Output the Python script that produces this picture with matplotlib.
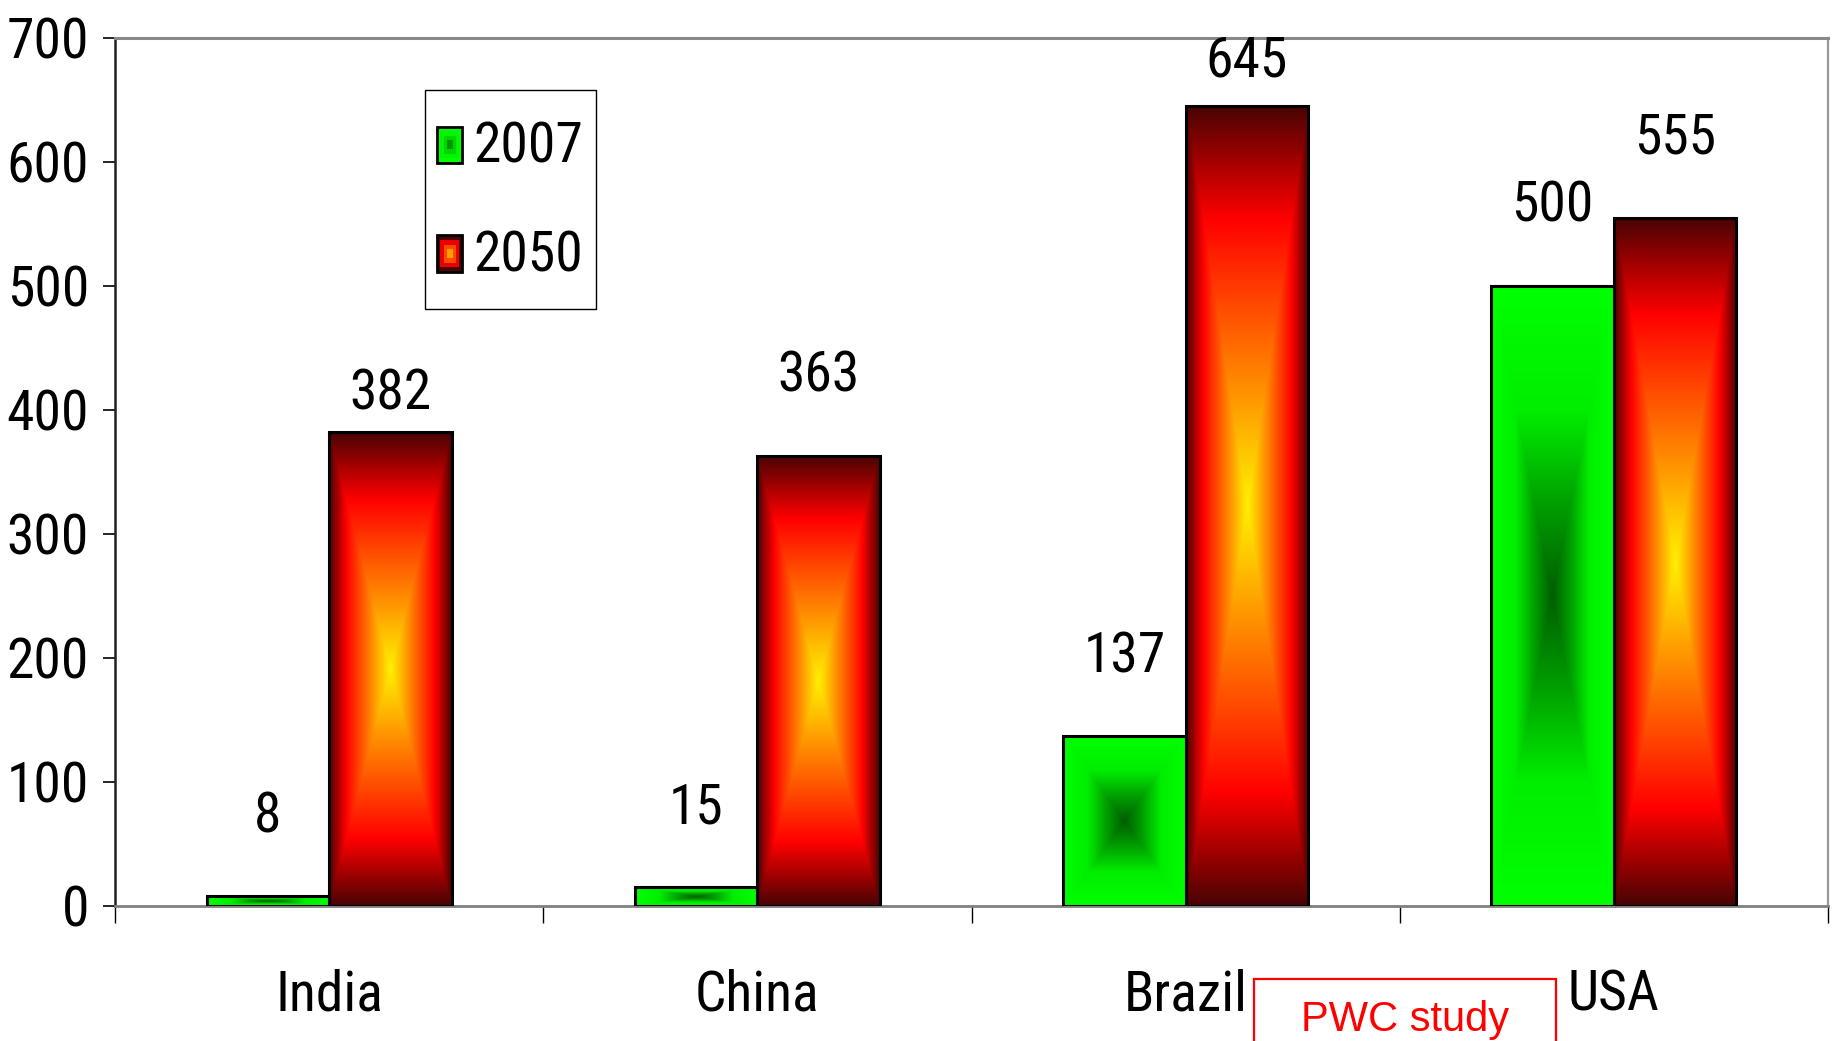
import matplotlib
matplotlib.use('Agg')
import matplotlib.pyplot as plt
import numpy as np
from matplotlib import font_manager
from matplotlib.colors import LinearSegmentedColormap
from matplotlib.legend_handler import HandlerBase
from matplotlib.patches import Rectangle

# data
countries = ['India', 'China', 'Brazil', 'USA']
years = ['2007', '2050']
vals_2007 = [8, 15, 137, 500]
vals_2050 = [382, 363, 645, 555]
yticks = [0, 100, 200, 300, 400, 500, 600, 700]

# label offsets above the bar tops (data units), two labels were nudged down
off_2007 = [64, 64, 64, 64]
off_2050 = [31, 64, 36, 64]

# pick a narrow face if one is around, the original uses Arial Narrow
fonts = font_manager.fontManager.ttflist
names = {f.name for f in fonts}
NARROW, STRETCH, BIG = 'Liberation Sans', 'normal', 34
for cand in ['Liberation Sans Narrow', 'Roboto Condensed', 'Open Sans Condensed']:
    if cand in names:
        NARROW, STRETCH, BIG = cand, 'normal', 40
        break
else:
    if any(f.name == 'DejaVu Sans' and f.stretch == 'condensed' for f in fonts):
        NARROW, STRETCH, BIG = 'DejaVu Sans', 'condensed', 36

green_cm = LinearSegmentedColormap.from_list('grn', [
    (0.0, '#005e00'), (0.3, '#00a000'), (0.6, '#00ee00'), (1.0, '#00ff00')])
red_cm = LinearSegmentedColormap.from_list('red', [
    (0.0, '#fff000'), (0.15, '#ffc000'), (0.3, '#ff8c00'), (0.5, '#ff4a00'),
    (0.72, '#ff0000'), (0.86, '#a80000'), (1.0, '#4a0404')])


def box_gradient(n=200):
    # rectangular "from centre" gradient: 0 in the middle, 1 on the edges
    u = np.linspace(-1, 1, n)
    U, V = np.meshgrid(u, u)
    return np.maximum(np.abs(U), np.abs(V))


def fill_bars(ax, bars, cmap):
    g = box_gradient()
    for r in bars:
        x0, y0 = r.get_xy()
        ax.imshow(g, cmap=cmap, vmin=0, vmax=1, origin='lower', aspect='auto',
                  interpolation='bilinear',
                  extent=[x0, x0 + r.get_width(), y0, y0 + r.get_height()],
                  zorder=2)


class GradHandler(HandlerBase):
    # small stepped gradient box, drawn smaller than the row it sits in
    def __init__(self, cmap, steps=4, box_h=0.65):
        super().__init__()
        self.cmap = cmap
        self.steps = steps
        self.box_h = box_h

    def create_artists(self, legend, orig_handle, xdescent, ydescent,
                       width, height, fontsize, trans):
        arts = []
        cx = -xdescent + width / 2
        cy = -ydescent + height / 2
        bh = self.box_h * fontsize
        for i in range(self.steps):
            f = 1 - i / self.steps
            w, h = width * f, bh * f
            arts.append(Rectangle((cx - w / 2, cy - h / 2), w, h,
                                  facecolor=self.cmap(f), edgecolor='none',
                                  transform=trans))
        arts.append(Rectangle((cx - width / 2, cy - bh / 2), width, bh,
                              facecolor='none', edgecolor='black', lw=2,
                              transform=trans))
        return arts


txt = dict(family=NARROW, stretch=STRETCH)

fig = plt.figure(figsize=(18.32, 10.41), dpi=100)
fig.subplots_adjust(left=0.0628, right=0.9978, top=0.9638, bottom=0.1297)
ax = fig.add_subplot(111)

x = np.arange(len(countries))
bw = 0.286
b1 = ax.bar(x - bw / 2, vals_2007, bw, facecolor='none', edgecolor='black',
            lw=2.2, zorder=3)
b2 = ax.bar(x + bw / 2, vals_2050, bw, facecolor='none', edgecolor='black',
            lw=2.2, zorder=3)
fill_bars(ax, b1, green_cm)
fill_bars(ax, b2, red_cm)

for xi, v, o in zip(x - bw / 2, vals_2007, off_2007):
    ax.text(xi, v + o, str(v), ha='center', va='center', fontsize=BIG, **txt)
for xi, v, o in zip(x + bw / 2, vals_2050, off_2050):
    ax.text(xi, v + o, str(v), ha='center', va='center', fontsize=BIG, **txt)

ax.set_xlim(-0.5, len(countries) - 0.5)
ax.set_ylim(0, 700)

# y axis
ax.set_yticks(yticks)
ax.set_yticklabels([str(t) for t in yticks], fontsize=BIG, **txt)
ax.tick_params(axis='y', length=8.6, width=1.2, pad=10, color='black')

# x axis: tick marks between groups, labels in the middle
ax.set_xticks(np.arange(len(countries) + 1) - 0.5)
ax.set_xticklabels([])
ax.tick_params(axis='x', which='major', length=12, width=1, color='black')
ax.set_xticks(x, minor=True)
ax.set_xticklabels(countries, minor=True, fontsize=BIG, **txt)
ax.tick_params(axis='x', which='minor', length=0, pad=45)

ax.spines['left'].set_color('#202020')
ax.spines['left'].set_linewidth(1.8)
ax.spines['top'].set_color('#888888')
ax.spines['top'].set_linewidth(2.2)
ax.spines['right'].set_color('#999999')
ax.spines['right'].set_linewidth(1.6)
ax.spines['bottom'].set_color('#808080')
ax.spines['bottom'].set_linewidth(2)

h1 = Rectangle((0, 0), 1, 1)
h2 = Rectangle((0, 0), 1, 1)
leg = ax.legend([h1, h2], years, loc='upper left',
                bbox_to_anchor=(0.181, 0.94), borderaxespad=0,
                handler_map={h1: GradHandler(green_cm), h2: GradHandler(red_cm)},
                prop={'family': NARROW, 'stretch': STRETCH, 'size': BIG},
                handlelength=0.45, handleheight=2.0, handletextpad=0.2,
                labelspacing=0.41, borderpad=0.22, fancybox=False,
                framealpha=1, edgecolor='black')
leg.get_frame().set_linewidth(1)

# red "PWC study" box at the bottom
fig.patches.append(Rectangle((0.6845, -0.05), 0.1648, 0.1096, fill=False,
                             edgecolor='red', lw=1.6,
                             transform=fig.transFigure, figure=fig))
fig.text(0.767, 0.02, 'PWC study', color='red', fontsize=30,
         family='Liberation Sans', ha='center', va='center')

plt.savefig('out.png', dpi=100)
